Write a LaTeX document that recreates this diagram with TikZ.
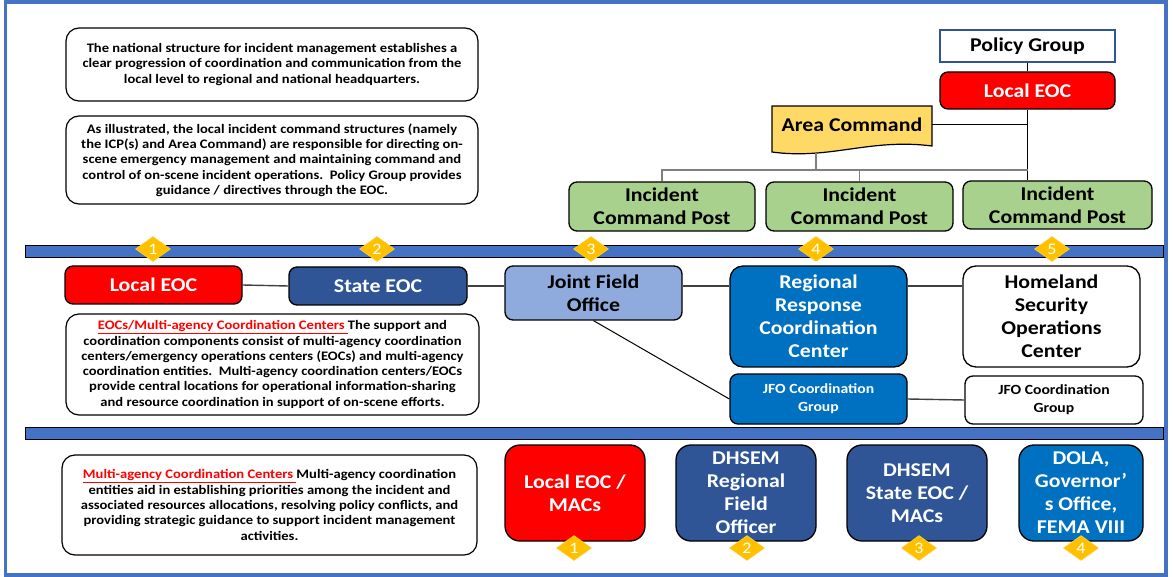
\documentclass[tikz,border=0pt]{standalone}
\usepackage{fontspec}
\setmainfont{Carlito}[FakeStretch=1.12]
\usetikzlibrary{shapes.geometric,calc}
\definecolor{frameblue}{HTML}{4472C4}
\definecolor{eocred}{HTML}{FF0000}
\definecolor{darkblue}{HTML}{2F5597}
\definecolor{midblue}{HTML}{0070C0}
\definecolor{lightblue}{HTML}{8FAADC}
\definecolor{icpgreen}{HTML}{A9D18E}
\definecolor{areagold}{HTML}{FFD966}
\definecolor{diagold}{HTML}{FFC000}
\definecolor{linegray}{HTML}{404040}
\tikzset{
  bx/.style={draw=black, line width=1.3pt, rounded corners=8pt, inner sep=0pt, align=center, font=\fontsize{19.5}{23}\selectfont\bfseries},
  txtbox/.style={draw=black, line width=1.2pt, rounded corners=13pt, fill=white, inner sep=0pt, align=center, font=\fontsize{13}{15.3}\selectfont\bfseries},
  smallbx/.style={font=\fontsize{14}{18}\selectfont\bfseries},
  band/.style={draw=black, line width=0.8pt, fill=frameblue, inner sep=0pt},
  num/.style={diamond, fill=diagold, draw=diagold!80!white, line width=0.6pt, inner sep=0pt, minimum width=35pt, minimum height=25pt, text=white, font=\fontsize{16}{16}\selectfont},
  conn/.style={draw=linegray, line width=1.4pt},
  thin conn/.style={draw=black, line width=1pt}
}
\begin{document}
\begin{tikzpicture}[x=1pt,y=-1pt]
\useasboundingbox (0,0) rectangle (1173,577);
\fill[white] (0,0) rectangle (1173,577);
\draw[frameblue, line width=3.5pt] (5.5,2) rectangle (1166,575);

% top-left text boxes
\node[txtbox, minimum width=412pt, minimum height=73pt] (introA) at (272,64.5)
 {The national structure for incident management establishes a\\clear progression of coordination and communication from the\\local level to regional and national headquarters.};
\node[txtbox, minimum width=412pt, minimum height=88pt] (introB) at (272,160)
 {As illustrated, the local incident command structures (namely\\the ICP(s) and Area Command) are responsible for directing on-\\scene emergency management and maintaining command and\\control of on-scene incident operations.\ \ Policy Group provides\\guidance\ / directives through the EOC.};

% top-right hierarchy
\node[draw=darkblue, line width=1.2pt, fill=white, inner sep=0pt, minimum width=175pt, minimum height=32pt, font=\fontsize{19.5}{23}\selectfont\bfseries] (policy) at (1027.5,46) {Policy Group};
\node[bx, fill=eocred, text=white, minimum width=175pt, minimum height=37pt] (leoc) at (1027.5,90.5) {Local EOC};
\fill[areagold] (772,106) -- (932,106) -- (932,146) .. controls (870,138) and (830,160) .. (772,152) -- cycle;
\draw[black, line width=1.2pt] (772,106) -- (932,106) -- (932,146) .. controls (870,138) and (830,160) .. (772,152) -- cycle;
\node[inner sep=0pt, minimum width=160pt, minimum height=36pt, font=\fontsize{19.5}{23}\selectfont\bfseries] (area) at (852,125) {Area Command};
\coordinate (acdrop) at (816,153);
\coordinate (bus) at (0,170);
\node[bx, fill=icpgreen, minimum width=186pt, minimum height=49pt] (icp1) at (662,206.5) {Incident\\Command Post};
\node[bx, fill=icpgreen, minimum width=187pt, minimum height=49pt] (icp2) at (859.5,206.5) {Incident\\Command Post};
\node[bx, fill=icpgreen, minimum width=189pt, minimum height=48pt] (icp3) at (1057.5,205) {Incident\\Command Post};

\draw[thin conn] (policy.south) -- (leoc.north);
\draw[thin conn] (leoc.south) -- (leoc.south |- icp3.north);
\draw[thin conn] (area.east) -- (area.east -| leoc.south);
\draw[conn, draw=gray] (acdrop) -- (acdrop |- bus);
\draw[conn, draw=gray] (icp1.north) -- (icp1.north |- bus) -- (leoc.south |- bus);
\draw[conn, draw=gray] (icp2.north) -- (icp2.north |- bus);

% band 1
\node[band, minimum width=1138pt, minimum height=12pt] (band1) at (594,251) {};
\node[num] (d1) at (153,249) {1};
\node[num] (d2) at (377,249) {2};
\node[num] (d3) at (591,249) {3};
\node[num] (d4) at (816,249) {4};
\node[num] (d5) at (1052,249) {5};

% middle row
\node[bx, fill=eocred, text=white, minimum width=177pt, minimum height=38pt] (meoc) at (153.5,285) {Local EOC};
\node[bx, fill=darkblue, text=white, minimum width=178pt, minimum height=38pt] (seoc) at (378,286) {State EOC};
\node[bx, fill=lightblue, minimum width=177pt, minimum height=54pt] (jfo) at (593.5,293) {Joint Field\\Office};
\node[bx, fill=midblue, text=white, minimum width=177pt, minimum height=101pt, rounded corners=13pt] (rrcc) at (818.5,316.5) {Regional\\Response\\Coordination\\Center};
\node[bx, fill=white, minimum width=177pt, minimum height=101pt, rounded corners=13pt] (hsoc) at (1051.5,316.5) {Homeland\\Security\\Operations\\Center};
\node[bx, smallbx, fill=midblue, text=white, minimum width=177pt, minimum height=50pt] (jfocg) at (818.5,399) {JFO Coordination\\Group};
\node[bx, smallbx, fill=white, minimum width=178pt, minimum height=48pt] (jfocg2) at (1054,400) {JFO Coordination\\Group};

\draw[conn] (meoc.east) -- (seoc.west);
\draw[conn] (seoc.east) -- (seoc.east -| jfo.west);
\draw[conn] (seoc.east -| jfo.east) -- (seoc.east -| rrcc.west);
\draw[conn] (seoc.east -| rrcc.east) -- (seoc.east -| hsoc.west);
\draw[thin conn] (jfo.south) -- (jfocg.west);
\draw[conn] (jfocg.east) -- (jfocg2.west);

\node[txtbox, minimum width=413pt, minimum height=101pt] (eoctxt) at (272.5,364.5)
 {\textcolor{eocred}{\underline{EOCs/Multi-agency Coordination Centers\ }}The support and\\coordination components consist of multi-agency coordination\\centers/emergency operations centers (EOCs) and multi-agency\\coordination entities.\ \ Multi-agency coordination centers/EOCs\\provide central locations for operational information-sharing\\and resource coordination in support of on-scene efforts.};

% band 2
\node[band, minimum width=1138pt, minimum height=12pt] (band2) at (594,433) {};

% bottom row
\node[txtbox, minimum width=415pt, minimum height=100pt] (multitxt) at (269.5,505)
 {\textcolor{eocred}{\underline{Multi-agency Coordination Centers\ }}Multi-agency coordination\\entities aid in establishing priorities among the incident and\\associated resources allocations, resolving policy conflicts, and\\providing strategic guidance to support incident management\\activities.};
\node[bx, fill=eocred, text=white, minimum width=140pt, minimum height=96pt, rounded corners=15pt] (b1) at (575,493) {Local EOC /\\MACs};
\node[bx, fill=darkblue, text=white, minimum width=140pt, minimum height=96pt, rounded corners=15pt] (b2) at (746,493) {DHSEM\\Regional\\Field\\Officer};
\node[bx, fill=darkblue, text=white, minimum width=140pt, minimum height=96pt, rounded corners=15pt] (b3) at (917,493) {DHSEM\\State EOC /\\MACs};
\node[bx, fill=midblue, text=white, minimum width=124pt, minimum height=96pt, rounded corners=15pt] (b4) at (1081,493) {DOLA,\\Governor’\\s Office,\\FEMA VIII};
\node[num] (e1) at (574,548) {1};
\node[num] (e2) at (747,548) {2};
\node[num] (e3) at (919,548) {3};
\node[num] (e4) at (1081,548) {4};
\end{tikzpicture}
\end{document}
